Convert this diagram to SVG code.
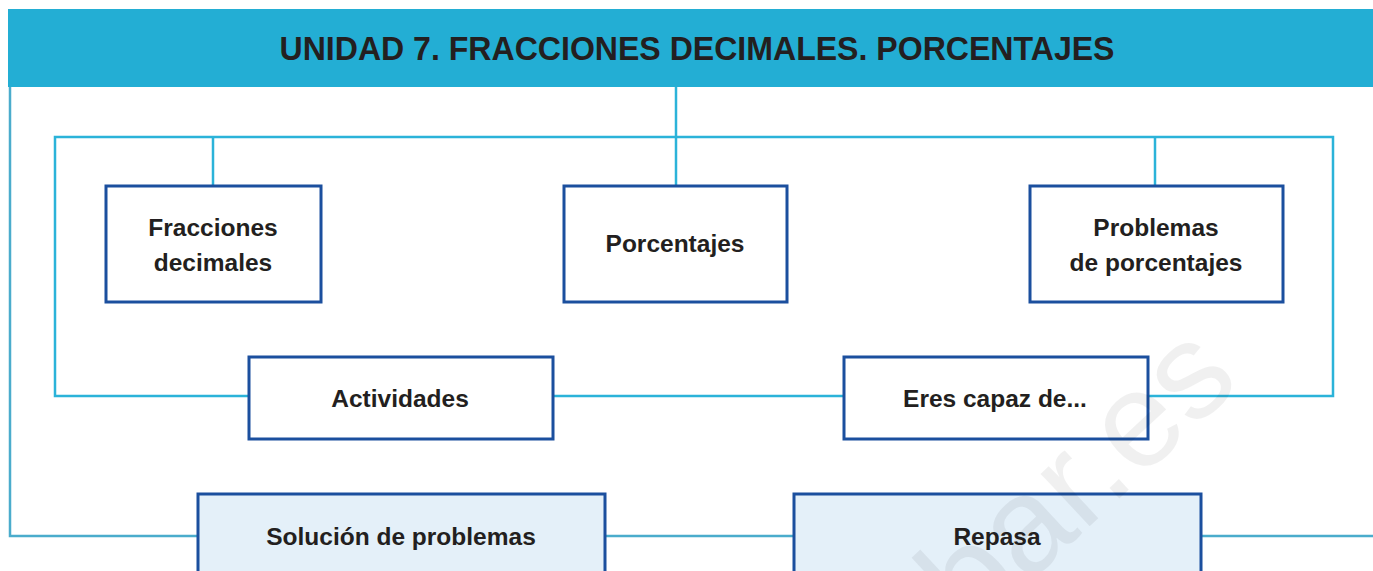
<svg xmlns="http://www.w3.org/2000/svg" width="1373" height="571" viewBox="0 0 1373 571">
  <style>
    .conn { fill: none; stroke: #2bb3d9; stroke-width: 2.5; }
    .outer { fill: none; stroke: #4aaccc; stroke-width: 2.5; }
    .box { fill: #ffffff; stroke: #1b4f9e; stroke-width: 3; }
    .box2 { fill: #e4f0f9; stroke: #1b4f9e; stroke-width: 3; }
    .lbl { font-family: "Liberation Sans", Arial, sans-serif; font-weight: bold; font-size: 24.5px; fill: #231f20; text-anchor: middle; }
    .title { font-family: "Liberation Sans", Arial, sans-serif; font-weight: bold; font-size: 34px; fill: #231f20; text-anchor: middle; }
    .wm { font-family: "Liberation Sans", Arial, sans-serif; font-size: 136px; fill: #000000; fill-opacity: 0.06; }
  </style>
  <rect width="1373" height="571" fill="#ffffff"/>

  <g id="connectors">
    <polyline class="outer" points="197,536 10,536 10,87"/>
    <line class="outer" x1="605" y1="536" x2="793" y2="536"/>
    <line class="outer" x1="1201" y1="536" x2="1373" y2="536"/>
    <line class="conn" x1="676" y1="87" x2="676" y2="185"/>
    <polyline class="conn" points="248,396 55,396 55,137 1333,137 1333,396 1148,396"/>
    <line class="conn" x1="553" y1="396" x2="843" y2="396"/>
    <line class="conn" x1="213" y1="137" x2="213" y2="185"/>
    <line class="conn" x1="1155" y1="137" x2="1155" y2="185"/>
  </g>

  <g id="header">
    <rect x="8" y="9" width="1365" height="78" fill="#23aed4"/>
    <text class="title" x="697" y="60" textLength="835" lengthAdjust="spacingAndGlyphs">UNIDAD 7. FRACCIONES DECIMALES. PORCENTAJES</text>
  </g>

  <g id="fracciones">
    <rect class="box" x="106" y="186" width="215" height="116"/>
    <text class="lbl" x="213" y="236">Fracciones</text>
    <text class="lbl" x="213" y="271">decimales</text>
  </g>
  <g id="porcentajes">
    <rect class="box" x="564" y="186" width="223" height="116"/>
    <text class="lbl" x="675" y="252">Porcentajes</text>
  </g>
  <g id="problemas">
    <rect class="box" x="1030" y="186" width="253" height="116"/>
    <text class="lbl" x="1156" y="236">Problemas</text>
    <text class="lbl" x="1156" y="271">de porcentajes</text>
  </g>
  <g id="actividades">
    <rect class="box" x="249" y="357" width="304" height="82"/>
    <text class="lbl" x="400" y="407">Actividades</text>
  </g>
  <g id="eres">
    <rect class="box" x="844" y="357" width="304" height="82"/>
    <text class="lbl" x="995" y="407">Eres capaz de...</text>
  </g>
  <g id="solucion">
    <rect class="box2" x="198" y="494" width="407" height="90"/>
    <text class="lbl" x="401" y="545">Solución de problemas</text>
  </g>
  <g id="repasa">
    <rect class="box2" x="794" y="494" width="407" height="90"/>
    <text class="lbl" x="997" y="545">Repasa</text>
  </g>

  <text class="wm" transform="translate(972,636) rotate(-43)">bar.es</text>
</svg>
